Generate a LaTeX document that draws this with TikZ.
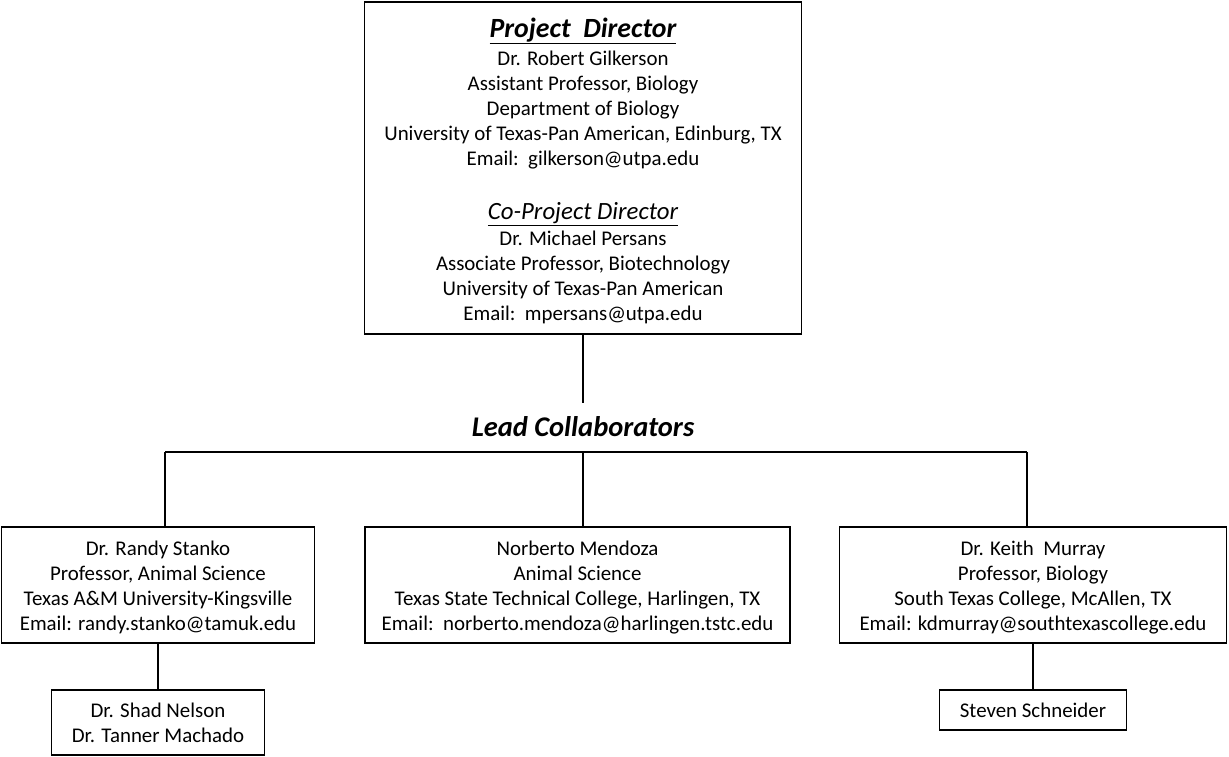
\documentclass[tikz,border=0pt]{standalone}
\usepackage{fontspec}
\setmainfont{Carlito}
\begin{document}
\begin{tikzpicture}[x=1pt,y=-1pt,
  box/.style={draw,line width=1.8pt,rectangle,inner sep=0pt,align=center,font=\fontsize{20.9}{25}\selectfont},
  conn/.style={line width=1.8pt},
  head/.style={font=\fontsize{28.5}{32}\selectfont\bfseries\itshape,inner xsep=2pt,inner ysep=14pt}]
\useasboundingbox (0,0) rectangle (1229,757);
\node[box,minimum width=437pt,minimum height=332pt] (pd) at (583,168) {%
\rule{0pt}{25pt}{\fontsize{27.8}{30}\selectfont\bfseries\itshape\underline{Project\ \ Director}}\\[3pt]
Dr. Robert Gilkerson\\
Assistant Professor,\ Biology\\
Department of Biology\\
University of Texas-Pan American, Edinburg, TX\\
Email:\ \ gilkerson@utpa.edu\\[29pt]
{\fontsize{24.8}{28}\selectfont\itshape\underline{Co-Project Director}}\\[1pt]
Dr. Michael Persans\\
Associate Professor, Biotechnology\\
University of Texas-Pan American\\
Email:\ \ mpersans@utpa.edu};
\node[head] (lead) at (583,427) {Lead Collaborators};
\coordinate (cl) at (165,452);
\coordinate (bar) at (583,452);
\coordinate (cr) at (1027,452);
\node[box,minimum width=313pt,minimum height=116pt] (st) at (158,585) {%
\rule{0pt}{20pt}Dr. Randy Stanko\\
Professor, Animal Science\\
Texas A\&M University-Kingsville\\
Email: randy.stanko@tamuk.edu};
\node[box,minimum width=425pt,minimum height=116pt] (nm) at (577.5,585) {%
\rule{0pt}{20pt}Norberto Mendoza\\
Animal Science\\
Texas State Technical College, Harlingen, TX\\
Email:\ \ norberto.mendoza@harlingen.tstc.edu};
\node[box,minimum width=387pt,minimum height=116pt] (km) at (1033,585) {%
\rule{0pt}{20pt}Dr. Keith\ \ Murray\\
Professor, Biology\\
South Texas College, McAllen, TX\\
Email: kdmurray@southtexascollege.edu};
\node[box,minimum width=213pt,minimum height=65pt] (sn) at (158,722.5) {%
Dr. Shad Nelson\\
Dr. Tanner Machado};
\node[box,minimum width=187pt,minimum height=40pt] (ss) at (1033,710) {Steven Schneider};
\draw[conn] (pd.south) -- (lead.north);
\draw[conn] (cl) -- (bar) -- (cr);
\draw[conn] (cl) -- (cl |- st.north);
\draw[conn] (bar) -- (bar |- nm.north);
\draw[conn] (cr) -- (cr |- km.north);
\draw[conn] (st.south) -- (sn.north);
\draw[conn] (km.south) -- (ss.north);
\end{tikzpicture}
\end{document}
